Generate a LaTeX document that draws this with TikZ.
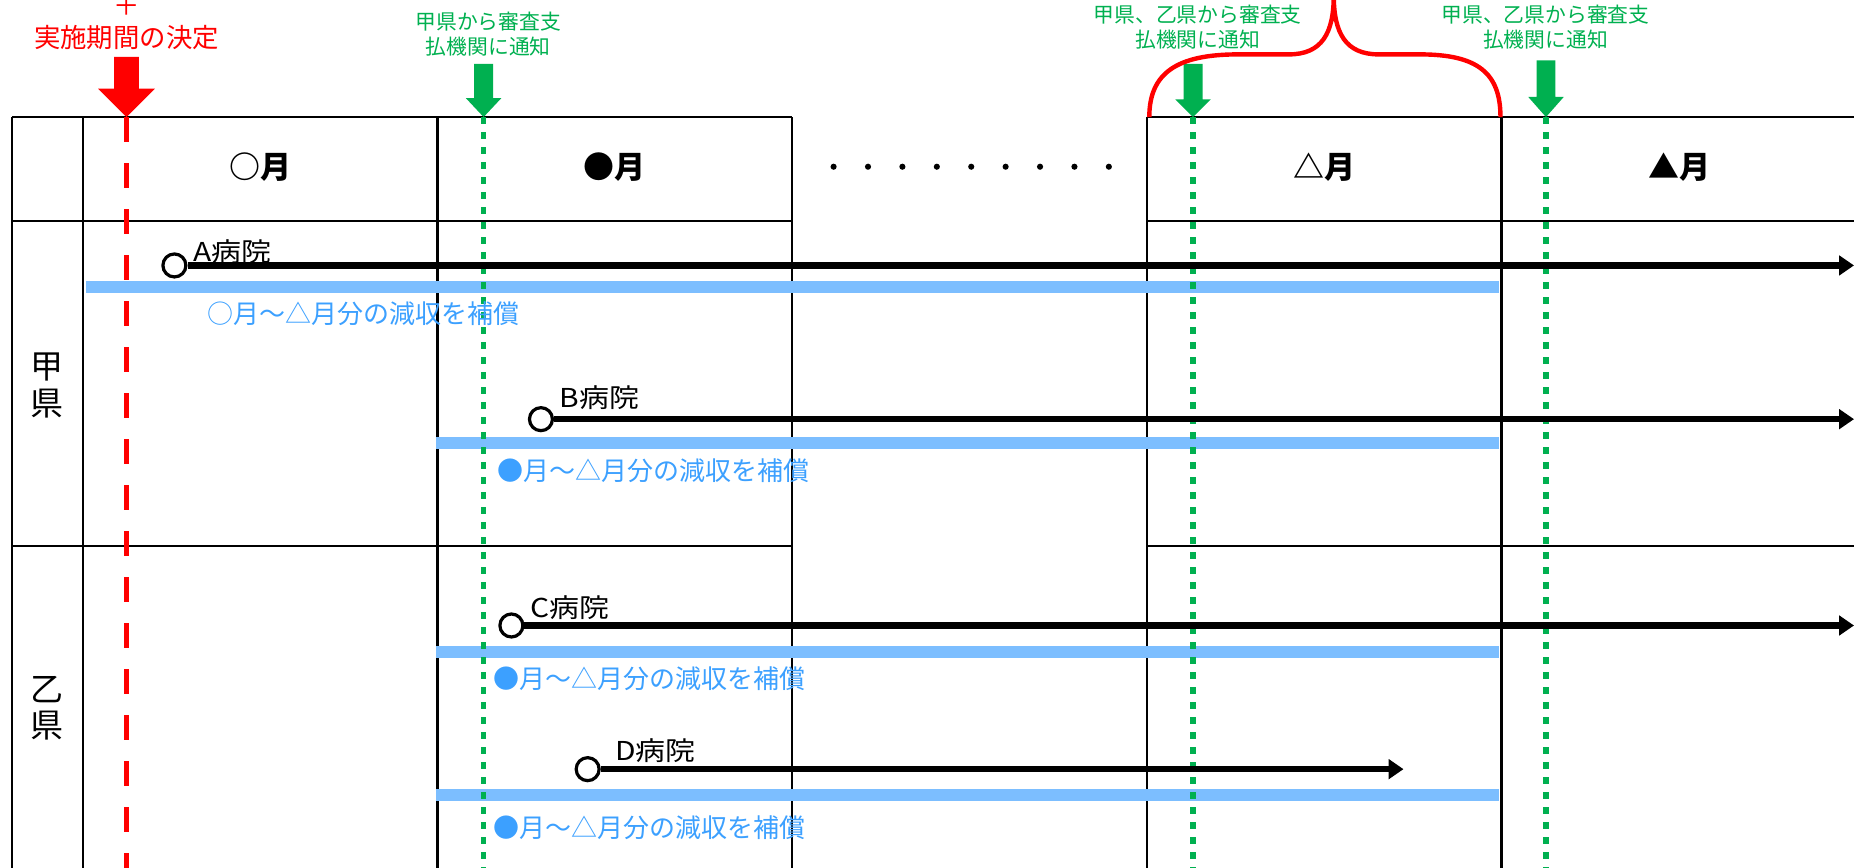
\documentclass[tikz,border=0pt]{standalone}
\usepackage{fontspec}
\setmainfont{Noto Sans CJK JP}
\usepackage{graphicx}
\usetikzlibrary{arrows.meta}
\definecolor{ngreen}{RGB}{0,176,80}
\definecolor{bandblue}{RGB}{124,190,255}
\definecolor{txtblue}{RGB}{60,160,255}
\definecolor{nred}{RGB}{255,0,0}
\tikzset{
  pics/downarrow/.style args={#1/#2/#3/#4}{code={
    \fill[pic actions] (-#1,-#3) -- (#1,-#3) -- (#1,-#4) -- (#2,-#4) -- (0,0) -- (-#2,-#4) -- (-#1,-#4) -- cycle;}}
}
\begin{document}
\begin{tikzpicture}[x=0.5912pt, y=-0.5912pt,
  grid/.style={line width=1.2pt, black},
  hline/.style={line width=3.2pt, -{Triangle[length=7.4pt,width=9.6pt]}},
  hosp/.style={circle, draw, line width=1.6pt, fill=white, minimum size=11.5pt, inner sep=0pt},
  band/.style={bandblue, line width=6pt},
  hlabel/.style={font=\fontsize{13}{13}\selectfont, inner sep=0pt, anchor=west},
  blabel/.style={txtblue, font=\fontsize{13}{13}\selectfont, anchor=west, inner sep=0pt},
  gtext/.style={ngreen, align=center, font=\fontsize{10.4}{12.4}\selectfont, inner sep=0pt},
  rtext/.style={nred, font=\fontsize{13.2}{13.2}\selectfont, inner sep=0pt},
  month/.style={font=\bfseries\fontsize{15.5}{15.5}\selectfont, inner sep=0pt},
  pref/.style={align=center, font=\fontsize{16.5}{18.3}\selectfont, inner sep=0pt},
  gdot/.style={ngreen, line width=2.6pt, dash pattern=on 3.4pt off 4.1pt},
  rdash/.style={nred, line width=2.6pt, dash pattern=on 12.5pt off 10.5pt},
]
\useasboundingbox (0,0) rectangle (1568,734);

% table
\draw[grid] (10,99) -- (670,99) (970,99) -- (1575,99);
\draw[grid] (10,187) -- (670,187) (970,187) -- (1575,187);
\draw[grid] (10,462) -- (670,462) (970,462) -- (1575,462);
\foreach \x in {10,70,370,670,970,1270} \draw[grid] (\x,99) -- (\x,740);

% header
\node[month] (m1) at (220,141) {○月};
\node[month] (m2) at (520,141) {●月};
\node[month] (m3) at (1120,141) {△月};
\node[month] (m4) at (1420,141) {▲月};
\foreach \i in {0,...,8} \fill (705+\i*29.1,141) circle (2.6);

% prefecture labels
\node[pref] (p1) at (40,326) {甲\\県};
\node[pref] (p2) at (40,599) {乙\\県};

% bands
\coordinate (bA1) at (73,243);  \coordinate (bA2) at (1268,243);
\coordinate (bB1) at (369,375); \coordinate (bB2) at (1268,375);
\coordinate (bC1) at (369,551); \coordinate (bC2) at (1268,551);
\coordinate (bD1) at (369,672); \coordinate (bD2) at (1268,672);
\draw[band] (bA1) -- (bA2);
\draw[band] (bB1) -- (bB2);
\draw[band] (bC1) -- (bC2);
\draw[band] (bD1) -- (bD2);

% vertical markers
\draw[rdash] (107,99) -- (107,740);
\draw[gdot] (409,99) -- (409,740);
\draw[gdot] (1009,99) -- (1009,740);
\draw[gdot] (1307.5,99) -- (1307.5,740);

% hospital timelines
\node[hosp] (hA) at (147.5,224.5) {};
\node[hosp] (hB) at (457.5,354.5) {};
\node[hosp] (hC) at (432.5,529) {};
\node[hosp] (hD) at (497,650.5) {};
\coordinate (eA) at (1568,224.5);
\coordinate (eB) at (1568,354.5);
\coordinate (eC) at (1568,529);
\coordinate (eD) at (1187,650.5);
\draw[hline] (hA) -- (eA);
\draw[hline] (hB) -- (eB);
\draw[hline] (hC) -- (eC);
\draw[hline] (hD) -- (eD);

\node[hlabel] (lA) at (163,213) {\scalebox{1.15}[1]{A病院}};
\node[hlabel] (lB) at (473,336) {\scalebox{1.15}[1]{B病院}};
\node[hlabel] (lC) at (448,514) {\scalebox{1.15}[1]{C病院}};
\node[hlabel] (lD) at (520,635) {\scalebox{1.15}[1]{D病院}};

\node[blabel] (tA) at (175,265) {○月～△月分の減収を補償};
\node[blabel] (tB) at (420,398) {●月～△月分の減収を補償};
\node[blabel] (tC) at (417,574) {●月～△月分の減収を補償};
\node[blabel] (tD) at (417,700) {●月～△月分の減収を補償};

% top annotations
\pic[nred] at (107,99) {downarrow=10.5/24/51/24};
\pic[ngreen] at (409,99) {downarrow=8/15/45/16};
\pic[ngreen] at (1009,99) {downarrow=8/15/45/15};
\pic[ngreen] at (1307.5,99) {downarrow=8/15/48/17};

\node[rtext] (plus) at (107,5) {＋};
\node[rtext] (decide) at (107,32) {実施期間の決定};
\node[gtext] (g1) at (413,29) {甲県から審査支\\払機関に通知};
\node[gtext] (g2) at (1013,23) {甲県、乙県から審査支\\払機関に通知};
\node[gtext] (g3) at (1307,23) {甲県、乙県から審査支\\払機関に通知};

% brace
\draw[nred, line width=2.2pt]
  (972,99) .. controls (972,62) and (995,46) .. (1047,46) -- (1090,46)
  .. controls (1118,46) and (1128,28) .. (1128,-4)
  .. controls (1128,28) and (1138,46) .. (1166,46) -- (1201,46)
  .. controls (1250,46) and (1269,62) .. (1269,99);
\end{tikzpicture}
\end{document}
